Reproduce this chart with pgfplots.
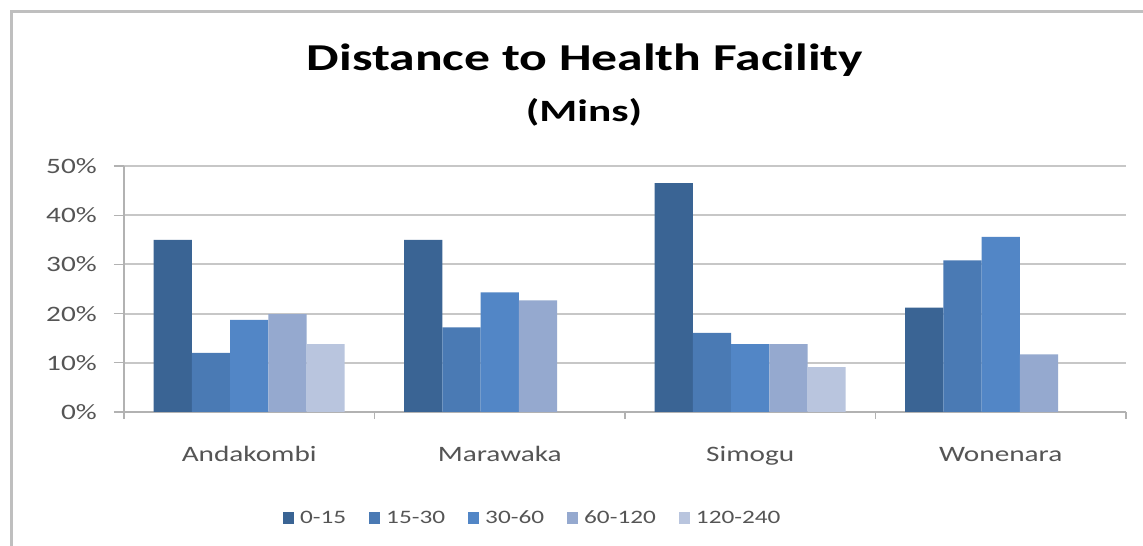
\documentclass[border=0pt]{standalone}
\usepackage{pgfplots}
\pgfplotsset{compat=1.18}
\usepackage{fontspec}
\setmainfont{Carlito}
\usepackage{graphicx}
\newcommand{\sx}[1]{\scalebox{1.33}[1]{#1}}
\definecolor{cA}{HTML}{3A6494}
\definecolor{cB}{HTML}{4A7AB4}
\definecolor{cC}{HTML}{5286C6}
\definecolor{cD}{HTML}{95A9CF}
\definecolor{cE}{HTML}{B9C5DE}
\definecolor{txt}{HTML}{555555}
\begin{document}
\begin{tikzpicture}[x=1pt,y=1pt]
\useasboundingbox (0,0) rectangle (1143,546);
\fill[white] (0,0) rectangle (1143,546);
\draw[black!25, line width=3pt] (11,-5) -- (11,534) -- (1150,534);
\node[anchor=base, font=\fontsize{38}{40}\selectfont\bfseries] at (585,475) {\scalebox{1.36}[1]{Distance to Health Facility}};
\node[anchor=base, font=\fontsize{31}{33}\selectfont\bfseries] at (584,424) {\scalebox{1.4}[1]{(Mins)}};
\begin{axis}[
  at={(124pt,134pt)}, anchor=south west, scale only axis,
  width=1002pt, height=246pt,
  xmin=-0.5, xmax=3.5, ymin=0, ymax=50,
  ytick={0,10,...,50},
  xtick={0,1,2,3},
  xticklabels={\sx{Andakombi},\sx{Marawaka},\sx{Simogu},\sx{Wonenara}},
  minor xtick={-0.5,0.5,1.5,2.5,3.5},
  major x tick style={draw=none},
  minor tick length=7pt,
  major tick length=10pt,
  tick align=outside,
  axis x line*=bottom, axis y line*=left,
  axis line style={black!30, line width=1.5pt},
  tick style={black!30, line width=1.2pt},
  ymajorgrids, grid style={black!22, line width=2pt},
  yticklabel={\sx{\pgfmathprintnumber[assume math mode=true]{\tick}\%}},
  yticklabel style={font=\fontsize{22}{24}\selectfont, text=txt, anchor=east, inner sep=0pt, xshift=-17pt},
  xticklabel style={font=\fontsize{22}{24}\selectfont, text=txt, anchor=base, inner sep=0pt, yshift=-40pt},
  ybar=0pt, bar width=38.2pt,
  legend style={at={(0.408,-0.431)}, anchor=center, draw=none, fill=none,
    font=\fontsize{19}{21}\selectfont, text=txt,
    /tikz/every odd column/.append style={column sep=4pt},
    /tikz/every even column/.append style={column sep=21pt}},
  legend columns=5,
  legend image code/.code={\fill[#1] (0pt,-6pt) rectangle (11pt,6pt);},
]
\addplot[fill=cA, draw=none] coordinates {(0,35.0) (1,35.0) (2,46.5) (3,21.2)};
\addplot[fill=cB, draw=none] coordinates {(0,12.0) (1,17.2) (2,16.1) (3,30.8)};
\addplot[fill=cC, draw=none] coordinates {(0,18.7) (1,24.3) (2,13.8) (3,35.6)};
\addplot[fill=cD, draw=none] coordinates {(0,19.9) (1,22.7) (2,13.8) (3,11.7)};
\addplot[fill=cE, draw=none] coordinates {(0,13.8) (2,9.1)};
\legend{\sx{0-15},\sx{15-30},\sx{30-60},\sx{60-120},\sx{120-240}}
\end{axis}
\end{tikzpicture}
\end{document}
